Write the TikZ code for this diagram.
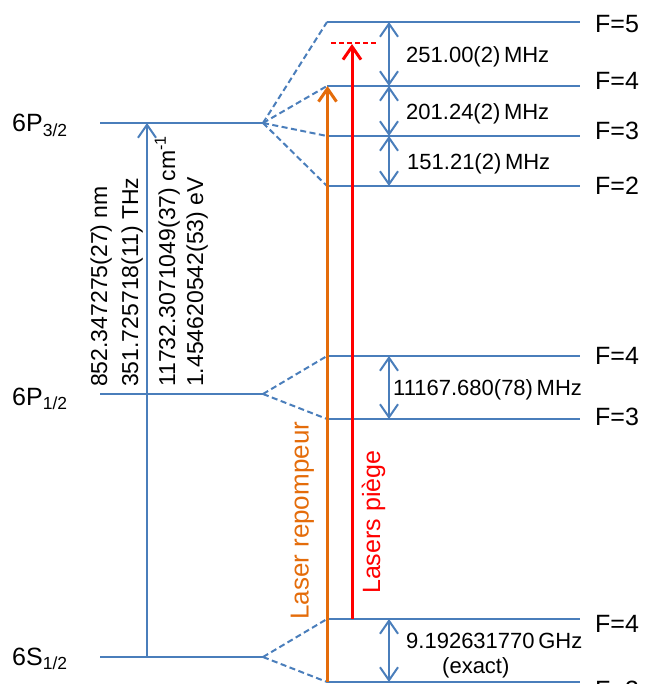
\documentclass[tikz,border=0pt]{standalone}
\usepackage{fontspec}
\setmainfont{Liberation Sans}
\usetikzlibrary{arrows.meta}
\definecolor{lvlblue}{RGB}{74,126,187}
\definecolor{lasorange}{RGB}{228,108,10}
\definecolor{lasred}{RGB}{255,0,0}
\begin{document}
\begin{tikzpicture}[x=1pt,y=-1pt,
  mainlvl/.style={draw=lvlblue, line width=2.8pt},
  hfline/.style={draw=lvlblue, line width=2pt},
  fanline/.style={draw=lvlblue, line width=2pt, dash pattern=on 6pt off 3.5pt},
  barb/.tip={Straight Barb[length=13pt,width=18pt,line width=2pt]},
  hfgap/.style={draw=lvlblue, line width=2pt, barb-barb},
  bigarrow/.style={draw=lvlblue, line width=2pt, -barb},
  laserline/.style={line width=3pt, -{Straight Barb[length=13pt,width=18pt,line width=3pt]}},
  flab/.style={font=\fontsize{25}{30}\selectfont, inner sep=0pt, anchor=base west},
  vallab/.style={font=\fontsize{22}{26}\selectfont, inner sep=0pt, anchor=base west},
  rotlab/.style={font=\fontsize{23}{28}\selectfont, inner sep=0pt, anchor=base west, rotate=90}
]
\useasboundingbox (0,0) rectangle (644,684);

% fine-structure levels
\coordinate (P3L) at (100,123); \coordinate (P3R) at (263,123);
\coordinate (P1L) at (100,394); \coordinate (P1R) at (263,394);
\coordinate (SL)  at (100,657); \coordinate (SR)  at (263,657);
\draw[mainlvl] (P3L) -- (P3R);
\draw[mainlvl] (P1L) -- (P1R);
\draw[mainlvl] (SL) -- (SR);

% hyperfine levels
\foreach \n/\y in {P3F5/22, P3F4/86, P3F3/136, P3F2/186, P1F4/356, P1F3/419, SF4/619, SF3/682}{
  \coordinate (\n a) at (327,\y);
  \coordinate (\n b) at (580,\y);
  \coordinate (\n g) at (389,\y);
}
\foreach \n in {P3F5, P3F4, P3F3, P3F2, P1F4, P1F3, SF4, SF3}{
  \draw[hfline] (\n a) -- (\n b);
}

% fans
\foreach \n in {P3F5, P3F4, P3F3, P3F2}{ \draw[fanline] (P3R) -- (\n a); }
\foreach \n in {P1F4, P1F3}{ \draw[fanline] (P1R) -- (\n a); }
\foreach \n in {SF4, SF3}{ \draw[fanline] (SR) -- (\n a); }

% hyperfine splittings
\draw[hfgap] (P3F5g) -- (P3F4g);
\draw[hfgap] (P3F4g) -- (P3F3g);
\draw[hfgap] (P3F3g) -- (P3F2g);
\draw[hfgap] (P1F4g) -- (P1F3g);
\draw[hfgap] (SF4g) -- (SF3g);

% D2 transition arrow
\coordinate (D2bot) at (147,657);
\coordinate (D2top) at (147,123);
\draw[bigarrow] (D2bot) -- (D2top);

% lasers
\coordinate (repbot) at (327.5,682);
\coordinate (reptop) at (327.5,86);
\draw[laserline, draw=lasorange] (repbot) -- (reptop);
\coordinate (trapbot) at (352,619);
\coordinate (traptop) at (352,44);
\coordinate (detL) at (331,43);
\coordinate (detR) at (376,43);
\draw[draw=lasred, line width=2pt, dash pattern=on 5pt off 3pt] (detL) -- (detR);
\draw[laserline, draw=lasred] (trapbot) -- (traptop);

% level labels
\node[flab] (lP3) at (12,132) {6P\textsubscript{3/2}};
\node[flab] (lP1) at (12,405) {6P\textsubscript{1/2}};
\node[flab] (lS)  at (12,665) {6S\textsubscript{1/2}};

% F labels
\node[flab] (fa) at (595,33)  {F=5};
\node[flab] (fb) at (595,90)  {F=4};
\node[flab] (fc) at (595,140) {F=3};
\node[flab] (fd) at (595,195) {F=2};
\node[flab] (fe) at (595,364) {F=4};
\node[flab] (ff) at (595,425) {F=3};
\node[flab] (fg) at (595,632) {F=4};
\node[flab] (fh) at (595,698) {F=3};

% splitting values
\node[vallab] (v1) at (406,63)  {251.00(2)\,MHz};
\node[vallab] (v2) at (406,120) {201.24(2)\,MHz};
\node[vallab] (v3) at (407,170) {151.21(2)\,MHz};
\node[vallab] (v4) at (393,395) {11167.680(78)\,MHz};
\node[vallab] (v5) at (406,648) {9.192631770\,GHz};
\node[vallab] (v6) at (442,673) {(exact)};

% transition values
\node[rotlab] (t1) at (107,387) {852.347275(27) nm};
\node[rotlab] (t2) at (138,387) {351.725718(11) THz};
\node[rotlab] (t3) at (175,387) {11732.3071049(37) cm\textsuperscript{-1}};
\node[rotlab] (t4) at (203,387) {1.454620542(53) eV};

% laser labels
\node[rotlab, font=\fontsize{26}{30}\selectfont, text=lasorange] (rep) at (308.5,620) {Laser repompeur};
\node[rotlab, font=\fontsize{25}{30}\selectfont, text=lasred] (trap) at (380,594) {Lasers piège};
\end{tikzpicture}
\end{document}
